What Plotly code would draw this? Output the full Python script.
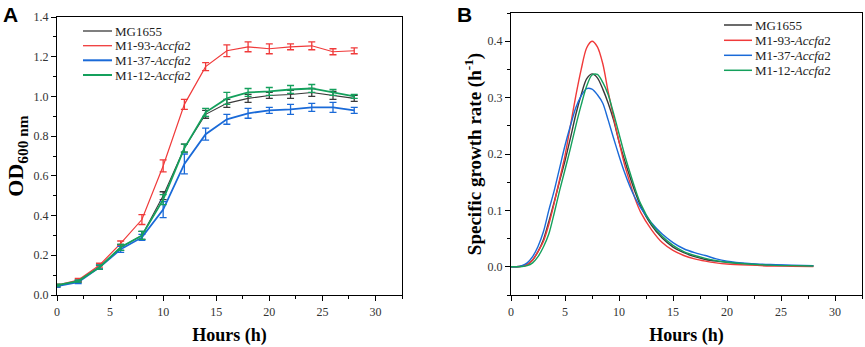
import plotly.graph_objects as go

# ---------- Panel A data: OD600 growth curves ----------
hours_a = [0, 2, 4, 6, 8, 10, 12, 14, 16, 18, 20, 22, 24, 26, 28]
od_mg1655 = [0.045, 0.07, 0.14, 0.24, 0.30, 0.50, 0.74, 0.91, 0.965, 0.99, 1.005, 1.01, 1.02, 1.005, 0.99]
od_m193 = [0.05, 0.075, 0.15, 0.26, 0.38, 0.65, 0.96, 1.15, 1.23, 1.25, 1.24, 1.25, 1.255, 1.225, 1.23]
od_m137 = [0.045, 0.065, 0.14, 0.23, 0.29, 0.43, 0.66, 0.81, 0.885, 0.915, 0.93, 0.935, 0.945, 0.945, 0.93]
od_m112 = [0.05, 0.07, 0.14, 0.24, 0.30, 0.48, 0.74, 0.92, 0.99, 1.02, 1.025, 1.035, 1.04, 1.02, 1.0]
err_mg1655 = [0.005, 0.005, 0.01, 0.015, 0.02, 0.02, 0.02, 0.02, 0.02, 0.02, 0.015, 0.02, 0.02, 0.02, 0.015]
err_m193 = [0.005, 0.008, 0.01, 0.012, 0.025, 0.03, 0.025, 0.02, 0.03, 0.025, 0.025, 0.015, 0.02, 0.015, 0.015]
err_m137 = [0.005, 0.008, 0.01, 0.015, 0.015, 0.04, 0.05, 0.03, 0.025, 0.025, 0.015, 0.025, 0.02, 0.025, 0.015]
err_m112 = [0.005, 0.005, 0.01, 0.015, 0.02, 0.025, 0.02, 0.02, 0.03, 0.02, 0.02, 0.02, 0.02, 0.015, 0.01]

# ---------- Panel B data: specific growth rate ----------
hours_b = [0, 0.5, 1, 1.5, 2, 2.5, 3, 3.5, 4, 4.5, 5, 5.5, 6, 6.5, 7, 7.5, 8, 8.5, 9, 9.5,
           10, 10.5, 11, 11.5, 12, 13, 14, 15, 16, 17, 18, 19, 20, 22, 24, 26, 28]
mu_mg1655 = [0, 0, 0.001, 0.004, 0.012, 0.027, 0.048, 0.08, 0.115, 0.152, 0.188, 0.228, 0.27, 0.305,
             0.333, 0.342, 0.335, 0.315, 0.29, 0.26, 0.222, 0.19, 0.16, 0.132, 0.108, 0.074, 0.051,
             0.035, 0.025, 0.018, 0.013, 0.01, 0.008, 0.005, 0.003, 0.002, 0.0015]
mu_m193 = [0, 0, 0.001, 0.004, 0.012, 0.027, 0.045, 0.075, 0.113, 0.155, 0.197, 0.25, 0.303, 0.35,
           0.388, 0.40, 0.39, 0.36, 0.31, 0.265, 0.222, 0.182, 0.15, 0.12, 0.097, 0.066, 0.043,
           0.029, 0.02, 0.014, 0.01, 0.007, 0.005, 0.003, 0.0015, 0.001, 0.0005]
mu_m137 = [0, 0, 0.002, 0.007, 0.018, 0.036, 0.062, 0.1, 0.135, 0.175, 0.215, 0.25, 0.282, 0.303,
           0.316, 0.315, 0.305, 0.29, 0.26, 0.228, 0.197, 0.168, 0.143, 0.122, 0.105, 0.078, 0.058,
           0.043, 0.032, 0.025, 0.02, 0.014, 0.01, 0.006, 0.004, 0.003, 0.002]
mu_m112 = [0, 0, 0.0005, 0.002, 0.007, 0.018, 0.035, 0.058, 0.095, 0.135, 0.172, 0.21, 0.25, 0.287,
           0.32, 0.34, 0.341, 0.327, 0.305, 0.272, 0.236, 0.2, 0.168, 0.138, 0.112, 0.077, 0.054,
           0.038, 0.027, 0.02, 0.015, 0.011, 0.008, 0.005, 0.003, 0.002, 0.0015]

names = ["MG1655", "M1-93-<i>Accfa</i>2", "M1-37-<i>Accfa</i>2", "M1-12-<i>Accfa</i>2"]
colors = ["#3a3a3a", "#f03a3a", "#1a6ad8", "#14a05c"]
widths_a = [1.1, 1.2, 1.8, 1.8]
width_b = 1.4

SERIF = "Liberation Serif"
fig = go.Figure()

for name, c, w, y, e in zip(names, colors, widths_a,
                            [od_mg1655, od_m193, od_m137, od_m112],
                            [err_mg1655, err_m193, err_m137, err_m112]):
    fig.add_trace(go.Scatter(
        x=hours_a, y=y, mode="lines", name=name, showlegend=False,
        line=dict(color=c, width=w),
        error_y=dict(type="data", array=e, visible=True, color=c, thickness=1.3, width=3.5),
        xaxis="x", yaxis="y"))

for name, c, y in zip(names, colors, [mu_mg1655, mu_m193, mu_m137, mu_m112]):
    fig.add_trace(go.Scatter(
        x=hours_b, y=y, mode="lines", name=name, showlegend=False,
        line=dict(color=c, width=width_b, shape="spline", smoothing=0.8),
        xaxis="x2", yaxis="y2"))

W, H = 865, 347
def px(v):
    return v / W
def py(v):
    return 1 - v / H

axis_common = dict(showline=True, linecolor="black", linewidth=1.3, mirror=True,
                   ticks="outside", ticklen=5, tickwidth=1.2, tickcolor="black",
                   showgrid=False, zeroline=False, automargin=False,
                   tickfont=dict(family=SERIF, size=12, color="#333"))

# manual legends (line sample + label), placed like the reference
shapes = []
annotations = []
def add_legend(x0, x1, xt, rows, widths):
    for name, c, w, yy in zip(names, colors, widths, rows):
        shapes.append(dict(type="line", xref="paper", yref="paper", x0=px(x0), x1=px(x1),
                           y0=py(yy), y1=py(yy), line=dict(color=c, width=w)))
        annotations.append(dict(text=name, x=px(xt), y=py(yy), xref="paper", yref="paper",
                                xanchor="left", yanchor="middle", showarrow=False,
                                font=dict(family=SERIF, size=13, color="#222")))

add_legend(83, 112, 113, [31, 45.7, 60.3, 75], [1.3, 1.3, 2.0, 2.0])
add_legend(724, 752, 753, [25, 40.3, 55.3, 70.3], [1.5, 1.5, 1.5, 1.5])

annotations += [
    dict(text="<b>A</b>", x=px(1), y=py(1), xref="paper", yref="paper", xanchor="left", yanchor="top",
         showarrow=False, font=dict(family="Liberation Sans", size=21, color="black")),
    dict(text="<b>B</b>", x=px(455), y=py(1), xref="paper", yref="paper", xanchor="left", yanchor="top",
         showarrow=False, font=dict(family="Liberation Sans", size=21, color="black")),
]

fig.update_layout(
    width=W, height=H, margin=dict(l=0, r=0, t=0, b=0, autoexpand=False),
    plot_bgcolor="white", paper_bgcolor="white",
    showlegend=False,
    xaxis=dict(domain=[px(57), px(402)], range=[0, 32.5], tickvals=[0, 5, 10, 15, 20, 25, 30],
               minor=dict(ticks="outside", dtick=2.5, tick0=0, ticklen=3, tickcolor="black"),
               title=dict(text="<b>Hours (h)</b>", font=dict(family=SERIF, size=18, color="black"),
                          standoff=10),
               anchor="y", **axis_common),
    yaxis=dict(domain=[py(295), py(17)], range=[0, 1.4], tickvals=[0, 0.2, 0.4, 0.6, 0.8, 1.0, 1.2, 1.4],
               tickformat=".1f",
               minor=dict(ticks="outside", dtick=0.1, tick0=0, ticklen=3, tickcolor="black"),
               title=dict(text="<b>OD<sub>600 nm</sub></b>", font=dict(family=SERIF, size=22, color="black"),
                          standoff=3),
               anchor="x", **axis_common),
    xaxis2=dict(domain=[px(511), px(862)], range=[0, 32.5], tickvals=[0, 5, 10, 15, 20, 25, 30],
                minor=dict(ticks="outside", dtick=2.5, tick0=0, ticklen=3, tickcolor="black"),
                title=dict(text="<b>Hours (h)</b>", font=dict(family=SERIF, size=18, color="black"),
                           standoff=10),
                anchor="y2", **axis_common),
    yaxis2=dict(domain=[py(295), py(13)], range=[-0.05, 0.45], tickvals=[0, 0.1, 0.2, 0.3, 0.4],
                tickformat=".1f",
                minor=dict(ticks="outside", dtick=0.05, tick0=0, ticklen=3, tickcolor="black"),
                title=dict(text="<b>Specific growth rate (h<sup>-1</sup>)</b>",
                           font=dict(family=SERIF, size=19, color="black"), standoff=0),
                anchor="x2", **axis_common),
    shapes=shapes,
    annotations=annotations,
)

fig.write_html("out.html", config={"displayModeBar": False},
               post_script="document.body.style.margin='0';document.body.style.overflow='hidden';")
